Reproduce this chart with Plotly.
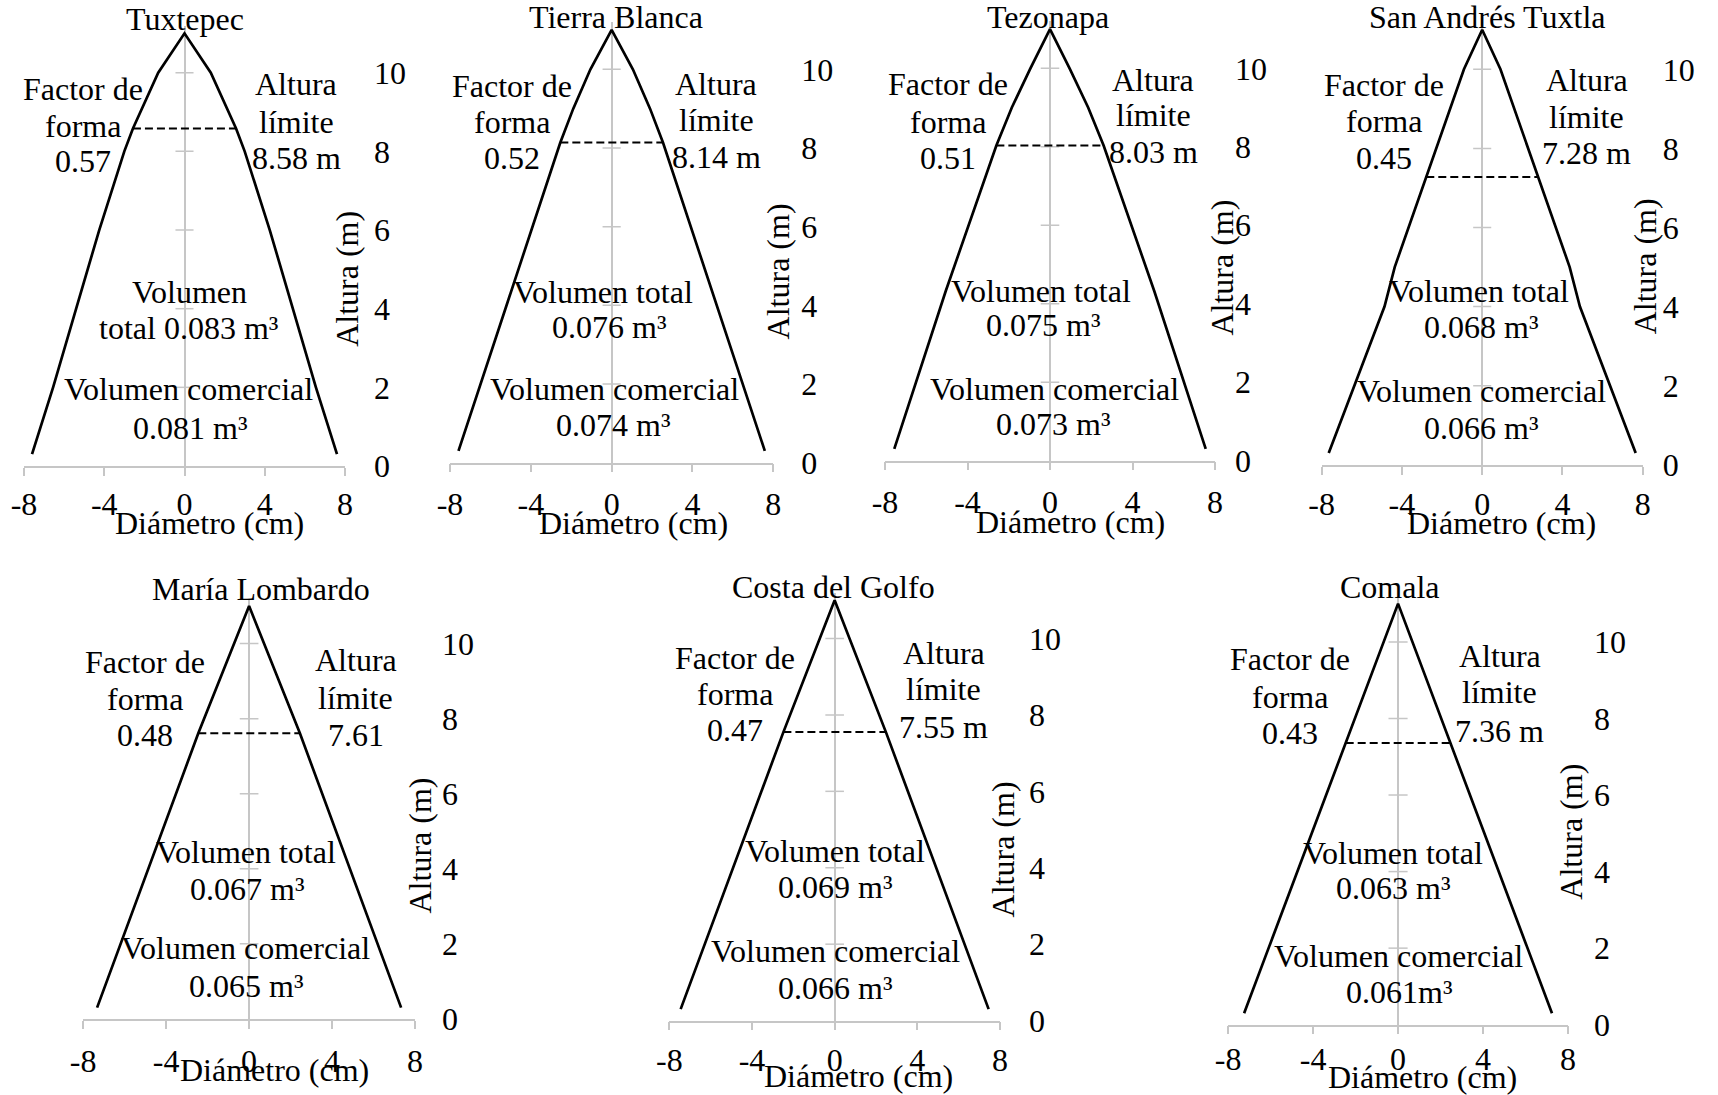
import numpy as np
import plotly.graph_objects as go

# ---- data -------------------------------------------------------------
sitios = ["Tuxtepec", "Tierra Blanca", "Tezonapa", "San Andrés Tuxtla",
          "María Lombardo", "Costa del Golfo", "Comala"]
factor_forma = [0.57, 0.52, 0.51, 0.45, 0.48, 0.47, 0.43]
altura_limite = [8.58, 8.14, 8.03, 7.28, 7.61, 7.55, 7.36]
altura_limite_txt = ["8.58 m", "8.14 m", "8.03 m", "7.28 m", "7.61", "7.55 m", "7.36 m"]
vol_total = [0.083, 0.076, 0.075, 0.068, 0.067, 0.069, 0.063]
vol_comercial = [0.081, 0.074, 0.073, 0.066, 0.065, 0.066, 0.061]

# stem profiles: height (m) and half diameter (cm)
alt_tuxtepec = [0.3, 2, 4, 6, 8, 8.58, 10, 11]
rad_tuxtepec = [7.6, 6.55, 5.4, 4.25, 3.0, 2.57, 1.31, 0]
alt_tierra_blanca = [0.3, 8.14, 9, 10, 11]
rad_tierra_blanca = [7.58, 2.54, 1.9, 1.05, 0]
alt_tezonapa = [0.3, 4.33, 8.03, 9, 10, 11]
rad_tezonapa = [7.55, 5.05, 2.6, 1.85, 0.95, 0]
alt_san_andres = [0.3, 4, 5, 10, 11]
rad_san_andres = [7.65, 4.87, 4.36, 0.91, 0]
alt_maria_lombardo = [0.3, 7.61, 11]
rad_maria_lombardo = [7.33, 2.45, 0]
alt_costa_golfo = [0.3, 7.55, 11]
rad_costa_golfo = [7.45, 2.48, 0]
alt_comala = [0.3, 11]
rad_comala = [7.25, 0]

perfiles = [(alt_tuxtepec, rad_tuxtepec), (alt_tierra_blanca, rad_tierra_blanca),
            (alt_tezonapa, rad_tezonapa), (alt_san_andres, rad_san_andres),
            (alt_maria_lombardo, rad_maria_lombardo), (alt_costa_golfo, rad_costa_golfo),
            (alt_comala, rad_comala)]

x_ticks = [-8, -4, 0, 4, 8]
x_ticktext = ["-8", "-4", "0", "4", "8"]
y_ticks = [0, 2, 4, 6, 8, 10]

# ---- page layout (pixels) --------------------------------------------
W, H = 1718, 1095
YMAX = 11.2
# x of -8, x of 8, y of 0, y of 10
marcos = [(24, 345, 466.0, 72.7), (450, 773.3, 462.7, 69.3), (885, 1215, 460.6, 68.3),
          (1321.7, 1642.7, 464.8, 69.3), (83.2, 415, 1018.9, 643.6),
          (669.3, 1000, 1020.6, 638.5), (1228.2, 1567.9, 1024.7, 641.9)]
FS = 32
xlab_standoff = [1, 4, 4, 2, 5, 2, -3]
ylab_standoff = [28, 27, 19, 19, 26, 28, 25]

titulo_x = [0, 0.2, -0.1, 0.25, 0.55, -0.05, -0.36]
titulo_y = [11.09, 11.05, 11.03, 11.05, 11.18, 11.07, 11.14]
ytit_y = [4.76, 4.87, 4.92, 5.01, 4.62, 4.48, 5.04]
ytit_shift = [2, 5, 7, 2, 5, 3, 3]
xtit_x = [1.24, 1.07, 0.97, 0.98, 1.22, 1.16, 1.13]
xtit_off = [68, 71.3, 72, 69, 62, 66, 63]

ff_x = [-5.06, -4.92, -4.94, -4.9, -5.0, -4.83, -5.07]
ff_y = [[9.30, 8.38, 7.47], [9.31, 8.38, 7.48], [9.32, 8.35, 7.43], [9.32, 8.41, 7.48],
        [9.23, 8.23, 7.27], [9.2, 8.26, 7.32], [9.27, 8.29, 7.34]]
al_x = [5.58, 5.18, 5.0, 5.2, 5.15, 5.27, 4.8]
al_y = [[9.43, 8.47, 7.56], [9.36, 8.44, 7.5], [9.43, 8.53, 7.59], [9.45, 8.52, 7.6],
        [9.27, 8.27, 7.27], [9.33, 8.39, 7.41], [9.35, 8.4, 7.39]]
vt_x = [[0.25, 0.2], [-0.42, -0.13], [-0.44, -0.36], [-0.15, -0.07],
        [-0.17, -0.12], [0, 0.03], [-0.23, -0.23]]
vt_y = [[4.16, 3.24], [4.07, 3.18], [4.05, 3.18], [4.12, 3.21],
        [4.17, 3.18], [4.15, 3.21], [4.2, 3.28]]
vc_x = [[0.2, 0.25], [0.16, 0.07], [0.24, 0.15], [-0.06, -0.05],
        [-0.17, -0.16], [0.03, 0.03], [0.03, 0.03]]
vc_y = [[1.68, 0.70], [1.61, 0.69], [1.55, 0.66], [1.59, 0.66],
        [1.59, 0.59], [1.54, 0.58], [1.52, 0.56]]

FONT = "Liberation Serif"
GRIS = "#C6C6C6"

fig = go.Figure()
layout = {}


def texto(k, txt, x, yb, f, angle=0, xshift=0, yshift=None):
    s = "" if k == 1 else str(k)
    fig.add_annotation(
        xref=f"x{s}", yref=f"y{s}", x=x, y=yb, text=txt,
        showarrow=False, xanchor="center", yanchor="middle",
        textangle=angle, xshift=xshift,
        yshift=(0.3375 * f) if yshift is None else yshift,
        font=dict(family=FONT, size=f, color="black"),
    )


for i, sitio in enumerate(sitios):
    k = i + 1
    s = "" if k == 1 else str(k)
    xl, xr, y0, y10 = marcos[i]
    esc = (y0 - y10) / 10.0
    ytop = y0 - YMAX * esc
    f = FS

    layout[f"xaxis{s}"] = dict(
        domain=[xl / W, xr / W], anchor=f"y{s}", range=[-8, 8],
        tickmode="array", tickvals=x_ticks, ticktext=x_ticktext,
        showline=True, linecolor=GRIS, linewidth=1.5,
        ticks="outside", ticklen=8, tickwidth=1.5, tickcolor=GRIS,
        zeroline=True, zerolinecolor=GRIS, zerolinewidth=1.5,
        showgrid=False, ticklabelstandoff=xlab_standoff[i],
        automargin=False,
        tickfont=dict(family=FONT, size=f, color="black"), fixedrange=True,
    )
    layout[f"yaxis{s}"] = dict(
        domain=[1 - y0 / H, 1 - ytop / H], anchor=f"x{s}", range=[0, YMAX],
        side="right", tickmode="array", tickvals=y_ticks,
        showline=False, ticks="", showgrid=False, zeroline=False,
        ticklabelstandoff=ylab_standoff[i], automargin=False,
        tickfont=dict(family=FONT, size=f, color="black"), fixedrange=True,
    )

    # cross tick marks on the central (x = 0) axis
    tx, ty = [], []
    for t in y_ticks[1:]:
        tx += [-0.45, 0.45, None]
        ty += [t, t, None]
    fig.add_trace(go.Scatter(x=tx, y=ty, mode="lines", xaxis=f"x{s}", yaxis=f"y{s}",
                             line=dict(color=GRIS, width=1.5), hoverinfo="skip",
                             showlegend=False))

    # stem outline
    alt, rad = perfiles[i]
    alt = np.array(alt, dtype=float)
    rad = np.array(rad, dtype=float)
    px = np.concatenate([-rad, rad[::-1][1:]])
    py = np.concatenate([alt, alt[::-1][1:]])
    fig.add_trace(go.Scatter(x=px, y=py, mode="lines", xaxis=f"x{s}", yaxis=f"y{s}",
                             line=dict(color="black", width=2.7), showlegend=False,
                             hoverinfo="skip"))

    # merchantable height line
    hl = altura_limite[i]
    rl = float(np.interp(hl, alt, rad))
    fig.add_trace(go.Scatter(x=[-rl, rl], y=[hl, hl], mode="lines",
                             xaxis=f"x{s}", yaxis=f"y{s}",
                             line=dict(color="black", width=2, dash="8px,4px"),
                             showlegend=False, hoverinfo="skip"))

    # titles
    texto(k, sitio, titulo_x[i], titulo_y[i], f)
    texto(k, "Altura (m)", 8, ytit_y[i], f, angle=-90, xshift=ytit_shift[i], yshift=0)
    texto(k, "Diámetro (cm)", xtit_x[i], 0, f, yshift=-xtit_off[i] + 0.3375 * f)

    # labels inside each panel
    for txt, yb in zip(["Factor de", "forma", f"{factor_forma[i]:.2f}"], ff_y[i]):
        texto(k, txt, ff_x[i], yb, f)
    for txt, yb in zip(["Altura", "límite", altura_limite_txt[i]], al_y[i]):
        texto(k, txt, al_x[i], yb, f)

    if i == 0:
        vt_lines = ["Volumen", f"total {vol_total[i]:.3f} m³"]
    else:
        vt_lines = ["Volumen total", f"{vol_total[i]:.3f} m³"]
    sep = "" if sitio == "Comala" else " "
    vc_lines = ["Volumen comercial", f"{vol_comercial[i]:.3f}{sep}m³"]
    for txt, x, yb in zip(vt_lines, vt_x[i], vt_y[i]):
        texto(k, txt, x, yb, f)
    for txt, x, yb in zip(vc_lines, vc_x[i], vc_y[i]):
        texto(k, txt, x, yb, f)

fig.update_layout(
    width=W, height=H,
    margin=dict(l=0, r=0, t=0, b=0, pad=0, autoexpand=False),
    paper_bgcolor="white", plot_bgcolor="white", showlegend=False,
    font=dict(family=FONT, color="black"),
    **layout,
)

# page without body margin so the figure fills the window exactly
fig.write_html(
    "out.html",
    config={"displayModeBar": False, "responsive": False},
    post_script="document.body.style.margin='0';document.body.style.padding='0';"
                "document.documentElement.style.overflow='hidden';",
)
